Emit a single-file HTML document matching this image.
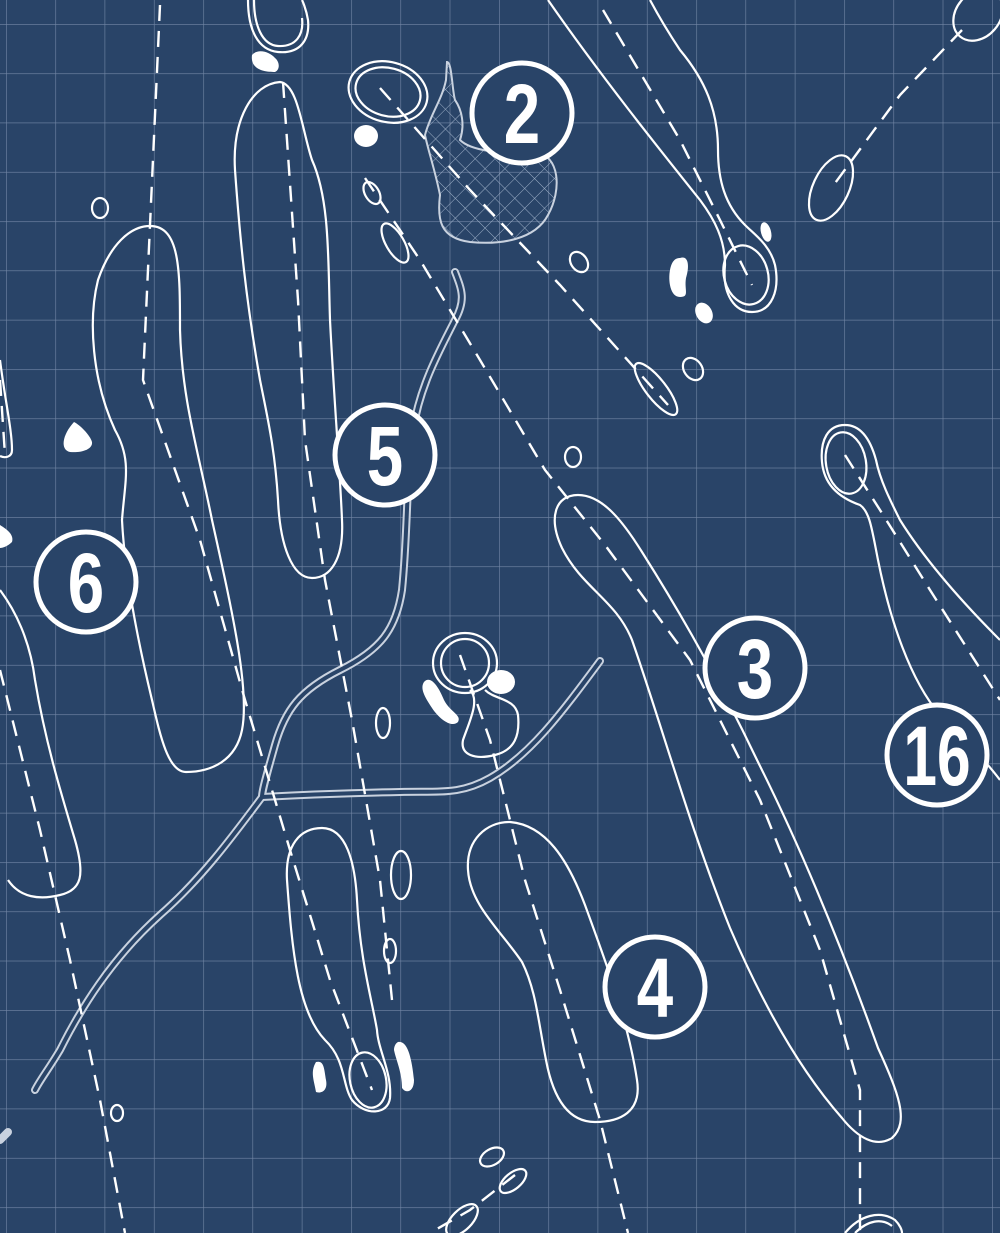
<!DOCTYPE html>
<html><head><meta charset="utf-8"><style>
html,body{margin:0;padding:0;background:#294468;}
svg{display:block}
.w{fill:none;stroke:#fff;stroke-width:2.2}
.d{fill:none;stroke:#fff;stroke-width:2.4;stroke-dasharray:16 10}
.f{fill:#fff}
.cr1{fill:none;stroke:#c9d2df;stroke-width:8;stroke-linecap:round;stroke-linejoin:round}
.cr2{fill:none;stroke:#294468;stroke-width:4;stroke-linecap:round;stroke-linejoin:round}
.b{fill:#294468;stroke:#fff;stroke-width:5}
.n{font-family:"Liberation Sans",sans-serif;font-weight:bold;fill:#fff;font-size:84px;text-anchor:middle}
</style></head><body>
<svg width="1000" height="1233" viewBox="0 0 1000 1233" xmlns="http://www.w3.org/2000/svg">
<defs>
<pattern id="g" x="6" y="24" width="49.3" height="49.3" patternUnits="userSpaceOnUse">
<path d="M0 0V49.3M0 0H49.3" stroke="#7387a6" stroke-width="1.2" fill="none"/>
</pattern>
<pattern id="h" width="14" height="14" patternUnits="userSpaceOnUse" patternTransform="rotate(45)">
<path d="M0 0V14M0 0H14" stroke="#9fb0c8" stroke-width="1" fill="none"/>
</pattern>
</defs>
<rect width="1000" height="1233" fill="#294468"/>
<rect width="1000" height="1233" fill="url(#g)"/>

<g>
<path class="cr1" d="M455,272 C462,290 466,300 455,320 C440,350 420,385 413,430 C406,480 408,530 402,590 C396,630 380,650 340,670 C300,690 285,710 275,745 C268,770 262,790 262,797"/>
<path class="cr1" d="M262,797 C230,840 200,880 160,915 C110,960 80,1010 60,1050 C48,1070 40,1080 35,1090"/>
<path class="cr1" d="M262,797 C300,795 350,793 400,792 C440,791 460,795 490,778 C530,755 560,715 600,661"/>
<path class="cr2" d="M455,272 C462,290 466,300 455,320 C440,350 420,385 413,430 C406,480 408,530 402,590 C396,630 380,650 340,670 C300,690 285,710 275,745 C268,770 262,790 262,797"/>
<path class="cr2" d="M262,797 C230,840 200,880 160,915 C110,960 80,1010 60,1050 C48,1070 40,1080 35,1090"/>
<path class="cr2" d="M262,797 C300,795 350,793 400,792 C440,791 460,795 490,778 C530,755 560,715 600,661"/>
</g>
<path d="M0,1140 L8,1132" class="cr1"/>

<path d="M447,62 C452,62 452,90 455,100 C462,110 465,125 460,140 C470,150 500,155 535,152 C560,155 562,190 548,215 C535,240 500,245 470,242 C440,238 437,220 440,195 C435,170 428,150 425,135 C430,115 442,100 446,80 Z" fill="url(#h)" stroke="#c9d2df" stroke-width="2"/>

<path class="d" d="M160,5 L150,225 L143,380 L200,540 L245,700 L290,850 L330,980 L372,1090"/>
<path class="d" d="M283,82 L298,300 L305,440 L325,580 L352,720 L380,880 L392,1000"/>
<path class="d" d="M0,670 L40,830 L70,960 L100,1100 L125,1233"/>
<path class="d" d="M0,380 L5,455"/>
<path class="d" d="M380,88 L470,190 L560,285 L668,405"/>
<path class="d" d="M365,178 L420,260 L480,360 L545,470 L605,545 L690,660 L760,800 L820,950 L860,1090 L860,1233"/>
<path class="d" d="M603,10 L680,140 L720,220 L752,285"/>
<path class="d" d="M962,30 L900,95 L830,190"/>
<path class="d" d="M845,455 L880,510 L930,590 L1000,700"/>
<path class="d" d="M460,655 L490,740 L525,880 L560,990 L600,1120 L628,1233"/>
<path class="d" d="M515,1175 L470,1210 L430,1233"/>

<path class="w" d="M150,226 C180,226 180,270 180,330 C182,400 198,450 212,520 C232,610 250,690 242,730 C236,760 212,772 186,772 C168,772 160,735 152,700 C140,650 125,580 122,520 C125,480 132,460 115,430 C92,380 88,320 98,280 C110,245 130,226 150,226 Z"/>
<path class="w" d="M0,590 C15,610 30,640 35,680 C45,740 60,790 75,840 C85,875 82,890 60,895 C40,900 20,898 8,880"/>
<path class="w" d="M0,360 C5,400 12,430 12,450 C12,458 4,458 0,456"/>
<path class="w" d="M280,82 C298,84 302,130 312,160 C330,200 328,260 330,320 C334,400 340,470 342,520 C344,560 330,578 312,578 C292,578 280,545 278,500 C275,450 268,420 260,380 C246,300 240,240 235,170 C232,120 252,84 280,82 Z"/>
<path class="w" d="M248,0 C248,30 258,50 278,52 C300,54 310,40 308,20 C306,8 302,0 302,0"/>
<path class="w" d="M254,0 C254,25 262,45 278,46 C296,47 304,35 302,18"/>
<ellipse class="w" cx="388" cy="92" rx="40" ry="30" transform="rotate(15 388 92)"/>
<ellipse class="w" cx="388" cy="92" rx="33" ry="24" transform="rotate(15 388 92)"/>
<path class="w" d="M548,0 C600,75 660,150 700,200 C715,220 725,240 725,265 C722,295 735,312 752,312 C772,312 780,290 775,265 C770,245 755,235 745,225 C725,205 718,180 718,150 C718,110 705,80 680,50 C668,32 658,15 650,0"/>
<ellipse class="w" cx="746" cy="275" rx="22" ry="30" transform="rotate(-15 746 275)"/>
<path class="w" d="M1000,640 C960,600 925,560 900,520 C890,500 880,480 876,460 C870,438 860,425 845,425 C828,425 820,440 822,462 C824,485 840,498 860,505 C870,512 872,530 878,560 C890,620 910,680 940,715 C965,740 985,760 1000,780"/>
<ellipse class="w" cx="846" cy="463" rx="20" ry="31" transform="rotate(-10 846 463)"/>
<path class="w" d="M578,495 C602,495 622,520 642,552 C680,612 720,682 758,762 C798,842 840,942 878,1048 C898,1092 910,1122 892,1138 C876,1148 858,1138 842,1118 C798,1068 760,998 730,928 C690,828 660,720 632,640 C616,600 582,588 562,548 C548,518 555,495 578,495 Z"/>
<path class="w" d="M510,822 C546,825 568,860 585,905 C605,960 628,1020 637,1080 C642,1112 620,1122 595,1122 C565,1122 552,1092 546,1060 C538,1020 536,990 522,962 C502,932 470,905 468,870 C466,840 486,822 510,822 Z"/>
<path class="w" d="M322,828 C346,828 355,862 357,900 C360,960 372,1000 377,1030 C378,1050 392,1072 390,1098 C388,1115 365,1116 352,1100 C342,1085 346,1060 325,1040 C298,1012 292,950 287,880 C285,845 300,828 322,828 Z"/>
<ellipse class="w" cx="368" cy="1080" rx="18" ry="28" transform="rotate(-12 368 1080)"/>
<ellipse class="w" cx="465" cy="663" rx="32" ry="30"/>
<ellipse class="w" cx="465" cy="663" rx="24" ry="24"/>
<path class="w" d="M470,690 C480,700 470,720 463,740 C460,755 475,760 495,755 C515,750 520,735 518,715 C515,698 495,700 485,690"/>
<ellipse class="w" cx="978" cy="15" rx="22" ry="28" transform="rotate(40 978 15)"/>
<ellipse class="w" cx="831" cy="188" rx="18" ry="35" transform="rotate(25 831 188)"/>
<path class="w" d="M845,1233 C860,1215 880,1210 895,1220 C900,1225 902,1230 902,1233"/>
<path class="w" d="M855,1233 C868,1220 882,1218 892,1226"/>

<ellipse class="w" cx="100" cy="208" rx="8" ry="10"/>
<ellipse class="w" cx="372" cy="193" rx="7" ry="12" transform="rotate(-30 372 193)"/>
<ellipse class="w" cx="395" cy="243" rx="9" ry="22" transform="rotate(-30 395 243)"/>
<ellipse class="w" cx="579" cy="262" rx="8" ry="11" transform="rotate(-35 579 262)"/>
<ellipse class="w" cx="656" cy="389" rx="10" ry="32" transform="rotate(-38 656 389)"/>
<ellipse class="w" cx="693" cy="369" rx="9" ry="12" transform="rotate(-35 693 369)"/>
<ellipse class="w" cx="573" cy="457" rx="8" ry="10"/>
<ellipse class="w" cx="383" cy="723" rx="7" ry="15"/>
<ellipse class="w" cx="401" cy="875" rx="10" ry="24"/>
<ellipse class="w" cx="390" cy="951" rx="6" ry="12"/>
<ellipse class="w" cx="117" cy="1113" rx="6" ry="8"/>
<ellipse class="w" cx="492" cy="1157" rx="8" ry="13" transform="rotate(60 492 1157)"/>
<ellipse class="w" cx="513" cy="1181" rx="8" ry="16" transform="rotate(50 513 1181)"/>
<ellipse class="w" cx="462" cy="1220" rx="10" ry="20" transform="rotate(45 462 1220)"/>

<path class="f" d="M252,55 C258,48 270,52 275,58 C280,62 280,70 275,72 C265,72 250,70 252,55 Z"/>
<ellipse class="f" cx="366" cy="136" rx="12" ry="11"/>
<path class="f" d="M74,422 C80,425 90,435 92,442 C93,450 80,453 70,452 C60,450 62,435 74,422 Z"/>
<path class="f" d="M0,525 C8,530 14,535 12,542 C8,546 3,548 0,548 Z"/>
<path class="f" d="M680,258 C688,255 690,265 686,278 C684,290 690,297 680,297 C670,297 668,280 670,270 C672,260 676,258 680,258 Z"/>
<ellipse class="f" cx="704" cy="313" rx="8" ry="11" transform="rotate(-30 704 313)"/>
<ellipse class="f" cx="766" cy="232" rx="5" ry="10" transform="rotate(-15 766 232)"/>
<path class="f" d="M424,682 C430,675 438,685 444,700 C450,712 462,715 458,722 C452,728 440,720 432,708 C424,696 420,688 424,682 Z"/>
<ellipse class="f" cx="501" cy="682" rx="14" ry="12"/>
<path class="f" d="M316,1062 C324,1060 324,1068 326,1080 C328,1090 322,1094 316,1092 C314,1080 310,1072 316,1062 Z"/>
<path class="f" d="M398,1042 C408,1040 412,1060 414,1080 C414,1092 406,1094 402,1088 C402,1072 396,1060 394,1050 C394,1046 396,1043 398,1042 Z"/>

<g>
<circle class="b" cx="86" cy="582" r="50"/>
<text class="n" x="86" y="612" transform="translate(86 0) scale(0.78 1) translate(-86 0)">6</text>
<circle class="b" cx="385" cy="455" r="50"/>
<text class="n" x="385" y="485" transform="translate(385 0) scale(0.78 1) translate(-385 0)">5</text>
<circle class="b" cx="522" cy="113" r="50"/>
<text class="n" x="522" y="143" transform="translate(522 0) scale(0.78 1) translate(-522 0)">2</text>
<circle class="b" cx="755" cy="668" r="50"/>
<text class="n" x="755" y="698" transform="translate(755 0) scale(0.78 1) translate(-755 0)">3</text>
<circle class="b" cx="655" cy="987" r="50"/>
<text class="n" x="655" y="1017" transform="translate(655 0) scale(0.78 1) translate(-655 0)">4</text>
<circle class="b" cx="937" cy="755" r="50"/>
<text class="n" x="937" y="785" transform="translate(937 0) scale(0.72 1) translate(-937 0)">16</text>
</g>
</svg>
</body></html>
